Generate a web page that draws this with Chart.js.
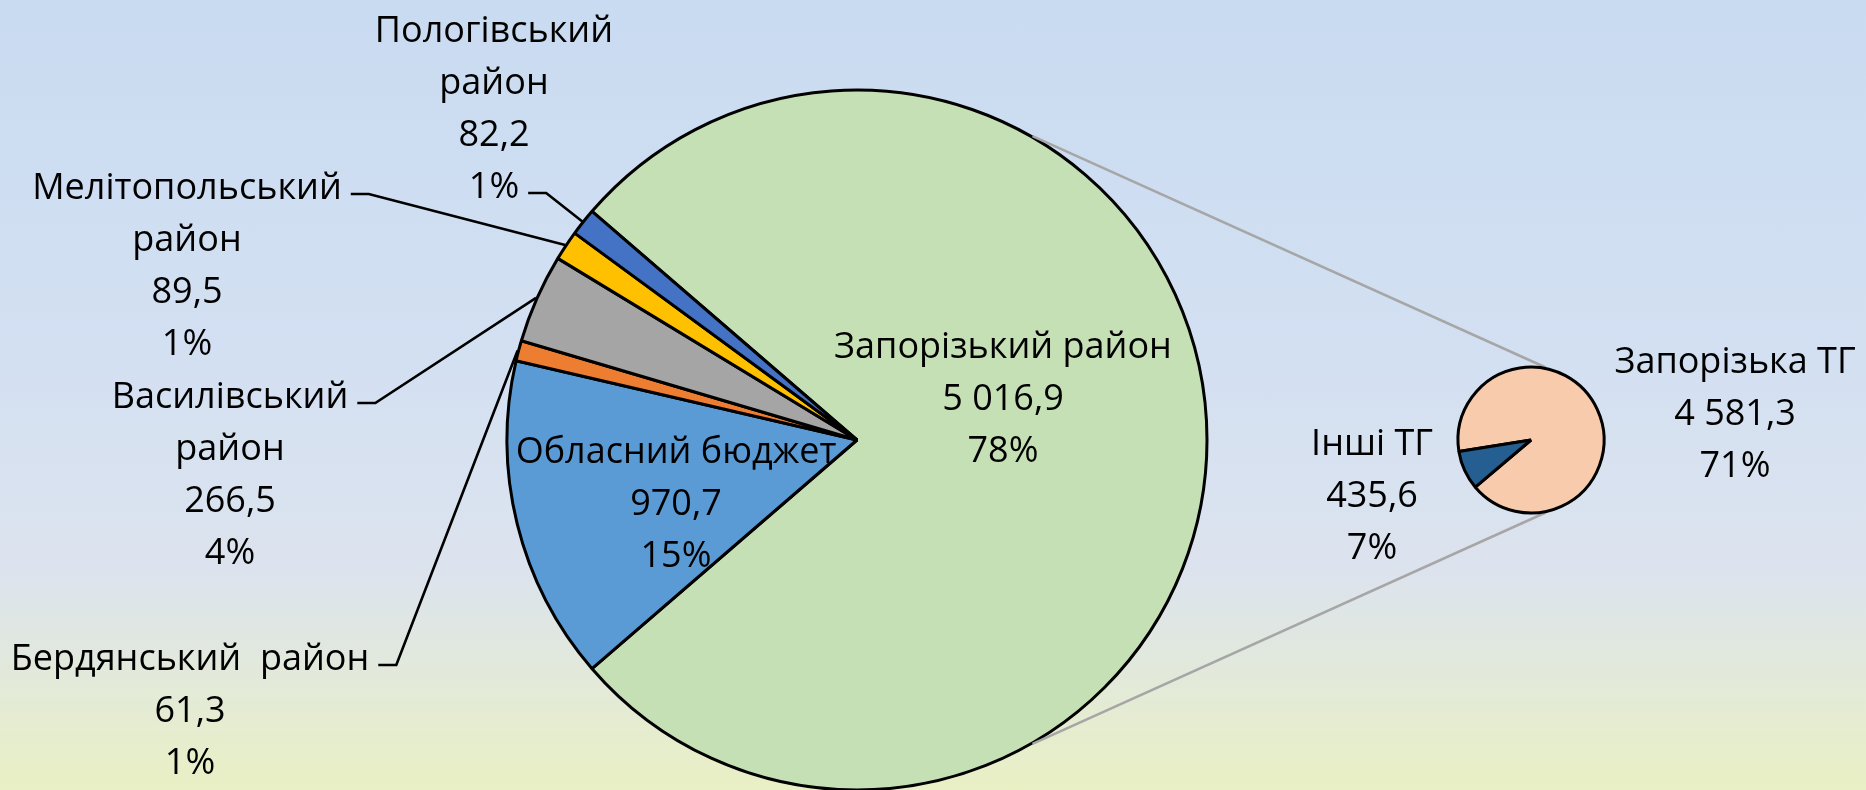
<!DOCTYPE html>
<html>
<head>
<meta charset="utf-8">
<script src="https://cdn.jsdelivr.net/npm/chart.js@4.4.1/dist/chart.umd.min.js"></script>
<style>
  body {
    margin: 0;
    width: 1866px;
    height: 790px;
    overflow: hidden;
    background: linear-gradient(to bottom, #C9DBF1 0%, #D3E0F2 45%, #DCE3EE 72%, #E9F0C4 100%);
  }
  #wrap { position: relative; width: 1866px; height: 790px; }
  #mainPie { position: absolute; left: 0; top: 0; }
  #subPie { position: absolute; left: 1446px; top: 355px; }
</style>
</head>
<body>
<div id="wrap">
  <canvas id="mainPie" width="1866" height="790"></canvas>
  <canvas id="subPie" width="170" height="170"></canvas>
</div>
<script>
// main pie (the "other" slice is first, it is split in the small pie)
const mainNames = ['Запорізький район', 'Обласний бюджет', 'Бердянський  район', 'Василівський район', 'Мелітопольський район', 'Пологівський район'];
const mainValues = [5016.9, 970.7, 61.3, 266.5, 89.5, 82.2];
const mainColors = ['#C5E0B4', '#5B9BD5', '#ED7D31', '#A5A5A5', '#FFC000', '#4472C4'];

// small pie, breakdown of Запорізький район
const subNames = ['Запорізька ТГ', 'Інші ТГ'];
const subValues = [4581.3, 435.6];
const subColors = ['#F8CBAD', '#255E91'];

// label placement
const mainLabelPos = [
  { x: 1003, y: 358 },
  { x: 676, y: 463 },
  { x: 190, y: 670, leader: 0 },
  { x: 230, y: 408, wrap: true, leader: 0 },
  { x: 187, y: 199, wrap: true, leader: 0 },
  { x: 494, y: 42, wrap: true, leader: 3 }
];
const subLabelPos = [
  { x: 1735, y: 373 },
  { x: 1372, y: 455 }
];

const FONT = '36px "Open Sans"';
const LINE_H = 52;

const grandTotal = mainValues.reduce((a, b) => a + b, 0);
const subPct = subValues.map(v => Math.round(v / grandTotal * 100));
const mainPct = mainValues.map((v, i) => i === 0 ? subPct.reduce((a, b) => a + b, 0) : Math.round(v / grandTotal * 100));

function fmt(v) {
  let parts = v.toFixed(1).split('.');
  parts[0] = parts[0].replace(/\B(?=(\d{3})+(?!\d))/g, ' ');
  return parts.join(',');
}

function drawLabel(ctx, lines, pos) {
  ctx.font = FONT;
  ctx.fillStyle = '#000';
  ctx.textAlign = 'center';
  ctx.textBaseline = 'alphabetic';
  lines.forEach((t, k) => ctx.fillText(t, pos.x, pos.y + k * LINE_H));
}

const subChart = new Chart(document.getElementById('subPie'), {
  type: 'pie',
  data: {
    labels: subNames,
    datasets: [{
      data: subValues,
      backgroundColor: subColors,
      borderColor: '#000',
      borderWidth: 3,
      radius: 73
    }]
  },
  options: {
    responsive: false,
    animation: false,
    rotation: 261,
    plugins: { legend: { display: false }, tooltip: { enabled: false } }
  }
});

const pieOfPie = {
  id: 'pieOfPie',
  afterDraw(chart) {
    const ctx = chart.ctx;
    const big = chart.getDatasetMeta(0).data;
    const cx = big[0].x, cy = big[0].y, r = big[0].outerRadius + 1;

    const subArc = subChart.getDatasetMeta(0).data[0];
    const sc = document.getElementById('subPie');
    const sx = sc.offsetLeft + subArc.x, sy = sc.offsetTop + subArc.y, sr = subArc.outerRadius + 1;

    // connector lines
    ctx.save();
    ctx.strokeStyle = '#A6A6A6';
    ctx.lineWidth = 2.5;
    [-1, 1].forEach(s => {
      const a1 = s * 60 * Math.PI / 180, a2 = s * 78.5 * Math.PI / 180;
      ctx.beginPath();
      ctx.moveTo(cx + r * Math.cos(a1), cy + r * Math.sin(a1));
      ctx.lineTo(sx + sr * Math.cos(a2), sy + sr * Math.sin(a2));
      ctx.stroke();
    });

    // main labels + leader lines
    mainNames.forEach((name, i) => {
      const pos = mainLabelPos[i];
      const nameLines = pos.wrap ? name.split(' ') : [name];
      const lines = nameLines.concat([fmt(mainValues[i]), mainPct[i] + '%']);
      drawLabel(ctx, lines, pos);
      if (pos.leader !== undefined) {
        const arc = big[i];
        const mid = (arc.startAngle + arc.endAngle) / 2;
        const px = arc.x + (arc.outerRadius + 1) * Math.cos(mid);
        const py = arc.y + (arc.outerRadius + 1) * Math.sin(mid);
        const w = ctx.measureText(lines[pos.leader]).width;
        const x1 = pos.x + w / 2 + 9;
        const ty = pos.y + pos.leader * LINE_H - 5;
        ctx.strokeStyle = '#000';
        ctx.lineWidth = 2.6;
        ctx.beginPath();
        ctx.moveTo(x1, ty);
        ctx.lineTo(x1 + 18, ty);
        ctx.lineTo(px, py);
        ctx.stroke();
      }
    });

    // small pie labels
    subNames.forEach((name, i) => {
      drawLabel(ctx, [name, fmt(subValues[i]), subPct[i] + '%'], subLabelPos[i]);
    });
    ctx.restore();
  }
};

new Chart(document.getElementById('mainPie'), {
  type: 'pie',
  data: {
    labels: mainNames,
    datasets: [{
      data: mainValues,
      backgroundColor: mainColors,
      borderColor: '#000',
      borderWidth: 3,
      radius: 350
    }]
  },
  options: {
    responsive: false,
    animation: false,
    // "other" slice centred on the right, facing the small pie
    rotation: 90 - mainValues[0] / grandTotal * 180,
    layout: { padding: { left: 0, right: 152, top: 90, bottom: 0 } },
    plugins: { legend: { display: false }, tooltip: { enabled: false } }
  },
  plugins: [pieOfPie]
});
</script>
</body>
</html>
